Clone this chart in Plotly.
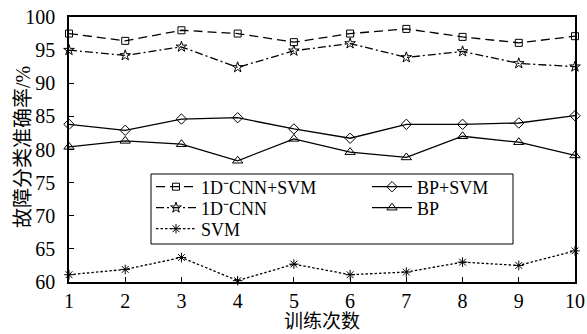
import plotly.graph_objects as go

x_runs = [1, 2, 3, 4, 5, 6, 7, 8, 9, 10]
cnn_svm = [97.5, 96.4, 98.0, 97.5, 96.2, 97.5, 98.2, 97.0, 96.1, 97.1]
cnn = [95.0, 94.2, 95.5, 92.4, 94.9, 96.0, 93.9, 94.8, 93.0, 92.5]
bp_svm = [83.8, 82.9, 84.6, 84.8, 83.1, 81.7, 83.8, 83.8, 84.0, 85.1]
bp = [80.4, 81.3, 80.8, 78.3, 81.6, 79.6, 78.8, 82.0, 81.1, 79.1]
svm = [61.1, 61.9, 63.7, 60.2, 62.7, 61.1, 61.5, 63.0, 62.5, 64.7]
y_ticks = [60, 65, 70, 75, 80, 85, 90, 95, 100]

FONT = "Liberation Serif, Times New Roman, Noto Sans CJK SC, serif"

pw, ph = 506, 265
L, T = 69, 17


def px_x(p):
    return (p - L) / pw


def px_y(p):
    return (T + ph - p) / ph


fig = go.Figure()


def add(y, name, symbol, dash, size, legend):
    fig.add_trace(go.Scatter(
        x=x_runs, y=y, name=name, mode="lines+markers",
        line=dict(color="black", width=1.3, dash=dash),
        marker=dict(symbol=symbol, size=size, color="black",
                    line=dict(color="black", width=1.0)),
        legend=legend, cliponaxis=False))


add(cnn_svm, "1D⁻CNN+SVM", "square-open", "9px,5px", 7, "legend")
add(cnn, "1D⁻CNN", "star-open", "8px,3px,2px,3px", 8, "legend2")
add(svm, "SVM", "asterisk-open", "2.5px,2px", 8, "legend3")
add(bp_svm, "BP+SVM", "diamond-open", "solid", 8, "legend4")
add(bp, "BP", "triangle-up-open", "solid", 9, "legend5")

fig.add_shape(type="rect", xref="paper", yref="paper",
              x0=px_x(151), x1=px_x(513), y0=px_y(244), y1=px_y(174),
              line=dict(color="black", width=1), fillcolor="rgba(0,0,0,0)")

fig.add_annotation(text="训练次数", xref="paper", yref="paper",
                   x=0.5, y=px_y(321), xanchor="center", yanchor="middle",
                   showarrow=False, font=dict(family=FONT, size=19, color="black"))
fig.add_annotation(text="故障分类准确率/%", xref="paper", yref="paper",
                   x=px_x(23), y=px_y(147), xanchor="center", yanchor="middle",
                   textangle=-90, showarrow=False,
                   font=dict(family=FONT, size=20, color="black"))

legend_common = dict(bgcolor="rgba(0,0,0,0)", borderwidth=0,
                     font=dict(family=FONT, size=18, color="black"),
                     yanchor="middle", xanchor="left", tracegroupgap=0,
                     itemwidth=40)

col1, col2 = 151, 367
rows = [187, 208, 229]

fig.update_layout(
    width=587, height=334,
    margin=dict(l=L, r=12, t=T, b=52, autoexpand=False),
    paper_bgcolor="white", plot_bgcolor="white",
    font=dict(family=FONT, size=18, color="black"),
    showlegend=True,
    legend=dict(x=px_x(col1), y=px_y(rows[0]), **legend_common),
    legend2=dict(x=px_x(col1), y=px_y(rows[1]), **legend_common),
    legend3=dict(x=px_x(col1), y=px_y(rows[2]), **legend_common),
    legend4=dict(x=px_x(col2), y=px_y(rows[0]), **legend_common),
    legend5=dict(x=px_x(col2), y=px_y(rows[1]), **legend_common),
    xaxis=dict(range=[1, 10], tickvals=x_runs, ticks="inside", ticklen=5,
               tickcolor="black", showline=True, linecolor="black",
               linewidth=1.5, mirror=True, showgrid=False, zeroline=False,
               tickfont=dict(size=20)),
    yaxis=dict(range=[60, 100], tickvals=y_ticks, ticks="inside", ticklen=5,
               tickcolor="black", showline=True, linecolor="black",
               linewidth=1.5, mirror=True, showgrid=False, zeroline=False,
               tickfont=dict(size=20), ticklabelstandoff=8),
)

fig.write_html("out.html", config={"displayModeBar": False},
               post_script="document.body.style.margin='0';document.body.style.padding='0';")
